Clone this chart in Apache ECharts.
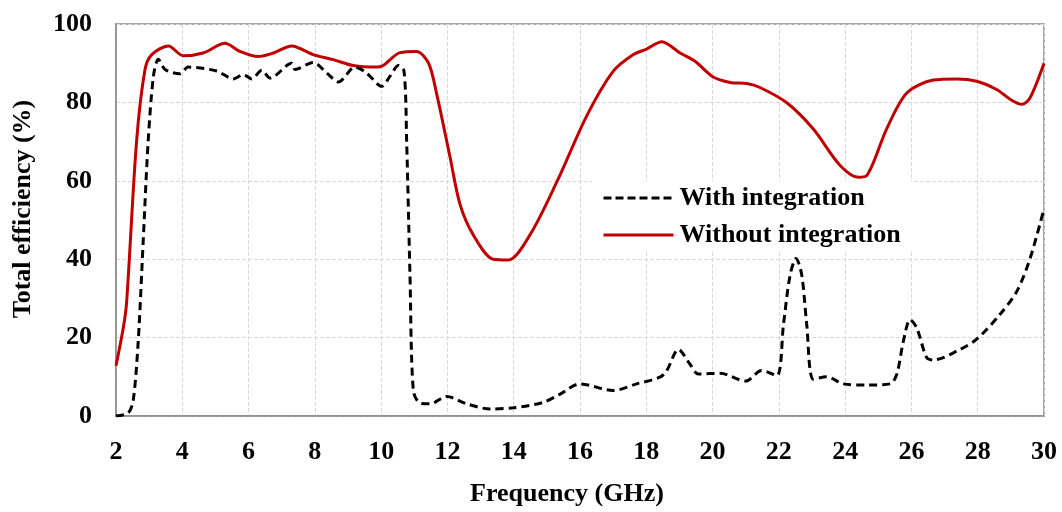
<!DOCTYPE html>
<html>
<head>
<meta charset="utf-8">
<script src="https://cdn.jsdelivr.net/npm/echarts@6/dist/echarts.min.js"></script>
<style>html,body{margin:0;padding:0;background:#fff}#c{width:1062px;height:512px}</style>
</head>
<body>
<div id="c"></div>
<script>
const xTicks = [2,4,6,8,10,12,14,16,18,20,22,24,26,28,30];
const yTicks = [0,20,40,60,80,100];
const seriesNames = ['With integration', 'Without integration'];

const withFreq = [2,2.37,2.52,2.67,2.82,2.97,3.13,3.28,3.48,3.93,4.18,5.04,5.54,5.84,6.09,6.4,6.65,7.3,7.4,7.95,8.36,8.71,9.21,9.56,10.02,10.27,10.52,10.69,10.77,10.87,10.97,11.17,11.48,11.98,12.58,13.29,13.99,14.9,15.4,16.0,17.0,17.71,18.41,18.62,18.97,19.32,19.57,20.23,21.0,21.48,21.94,22.14,22.34,22.52,22.69,22.84,23.04,23.44,23.95,24.65,25.36,25.56,25.76,25.96,26.16,26.46,26.66,27.47,27.97,28.67,29.18,29.58,30];
const withVal = [0,0.8,4,19,44.5,70,86.7,91,88.4,87.3,89,88,86,87.1,86,88.2,86.2,90,88.4,90.2,87.5,85.2,89,87.5,84.1,86.7,89.4,88,70,36,6.5,3.3,3.1,5,3.1,1.8,2.1,3.5,5.6,8.2,6.5,8.2,9.9,11.6,17,13.2,10.7,10.9,8.9,11.6,10.3,23.4,36,40.2,36,23.4,9.4,10,8.2,7.9,8.2,10.7,19.2,24.6,22.5,14.9,14.3,17,19.6,25.9,31.8,40.2,52.9];

const withoutFreq = [2,2.22,2.32,2.62,2.875,3.08,3.58,4.03,4.63,5.29,5.74,6.29,6.75,7.3,7.95,8.56,9.16,9.87,10.07,10.57,11.07,11.43,11.68,12.08,12.38,12.78,13.38,13.84,14.49,15.3,16.2,17.0,17.61,18.01,18.47,19.02,19.47,20.02,20.53,21.03,21.43,22.24,23.04,23.85,24.4,24.65,25.25,25.86,26.66,27.37,27.97,28.57,28.98,29.33,29.58,30];
const withoutVal = [12.8,22.5,29,70,88.4,92.2,94.4,91.9,92.6,95.1,93,91.7,92.6,94.4,92.2,90.9,89.4,89,89.5,92.7,93,90,82,66,54,46.2,40,39.8,46.2,59.7,76.5,87.9,92.2,93.6,95.5,92.6,90.5,86.5,85.1,84.8,83.8,79.9,73.2,63.9,60.9,61.3,73.2,82.4,85.7,86,85.4,83.3,80.8,79.5,81.2,90];

const FONT = '"Liberation Serif", "Times New Roman", serif';
const FS = 26;
const zip = (a, b) => a.map((v, i) => [v, b[i]]);

const chart = echarts.init(document.getElementById('c'));
chart.setOption({
  animation: false,
  backgroundColor: '#fff',
  grid: { left: 116, right: 18, top: 24, bottom: 93, show: true, borderColor: '#8c8c8c', borderWidth: 1.5, containLabel: false },
  legend: {
    orient: 'vertical',
    left: 592, top: 181,
    backgroundColor: '#fff',
    padding: [4, 12, 4, 10],
    itemWidth: 70, itemHeight: 14, itemGap: 11,
    itemStyle: { opacity: 0 },
    textStyle: { fontFamily: FONT, fontWeight: 'bold', fontSize: FS, color: '#000', padding: [0, 0, 0, 1] },
    data: [
      { name: seriesNames[0], lineStyle: { width: 3, type: [8, 4], color: '#000' } },
      { name: seriesNames[1], lineStyle: { width: 3, type: 'solid', color: '#c00000' } }
    ]
  },
  xAxis: {
    type: 'value', min: 2, max: 30, interval: 2,
    name: 'Frequency (GHz)', nameLocation: 'middle', nameGap: 65,
    nameTextStyle: { fontFamily: FONT, fontWeight: 'bold', fontSize: FS, color: '#000', padding: [0, 26, 0, 0] },
    axisLine: { show: true, lineStyle: { color: '#8c8c8c', width: 1.5 } },
    axisTick: { show: false },
    axisLabel: { margin: 23, fontFamily: FONT, fontWeight: 'bold', fontSize: FS, color: '#000',
      formatter: v => xTicks.includes(v) ? String(v) : '' },
    splitLine: { show: true, lineStyle: { color: '#d9d9d9', type: [4, 2], width: 1 } }
  },
  yAxis: {
    type: 'value', min: 0, max: 100, interval: 20,
    name: 'Total efficiency (%)', nameLocation: 'middle', nameGap: 80,
    nameTextStyle: { fontFamily: FONT, fontWeight: 'bold', fontSize: FS, color: '#000', padding: [0, 0, 0, 22] },
    axisLine: { show: true, lineStyle: { color: '#8c8c8c', width: 1.5 } },
    axisTick: { show: false },
    axisLabel: { margin: 24, fontFamily: FONT, fontWeight: 'bold', fontSize: FS, color: '#000',
      formatter: v => yTicks.includes(v) ? String(v) : '' },
    splitLine: { show: true, lineStyle: { color: '#d9d9d9', type: [4, 2], width: 1 } }
  },
  series: [
    {
      name: seriesNames[0], type: 'line', data: zip(withFreq, withVal),
      showSymbol: false, symbol: 'none', smooth: 0.3, z: 3,
      lineStyle: { color: '#000', width: 3, type: [8, 5] },
      itemStyle: { color: '#000' }
    },
    {
      name: seriesNames[1], type: 'line', data: zip(withoutFreq, withoutVal),
      showSymbol: false, symbol: 'none', smooth: 0.3, z: 2,
      lineStyle: { color: '#c00000', width: 3, type: 'solid' },
      itemStyle: { color: '#c00000' }
    }
  ]
});
</script>
</body>
</html>
